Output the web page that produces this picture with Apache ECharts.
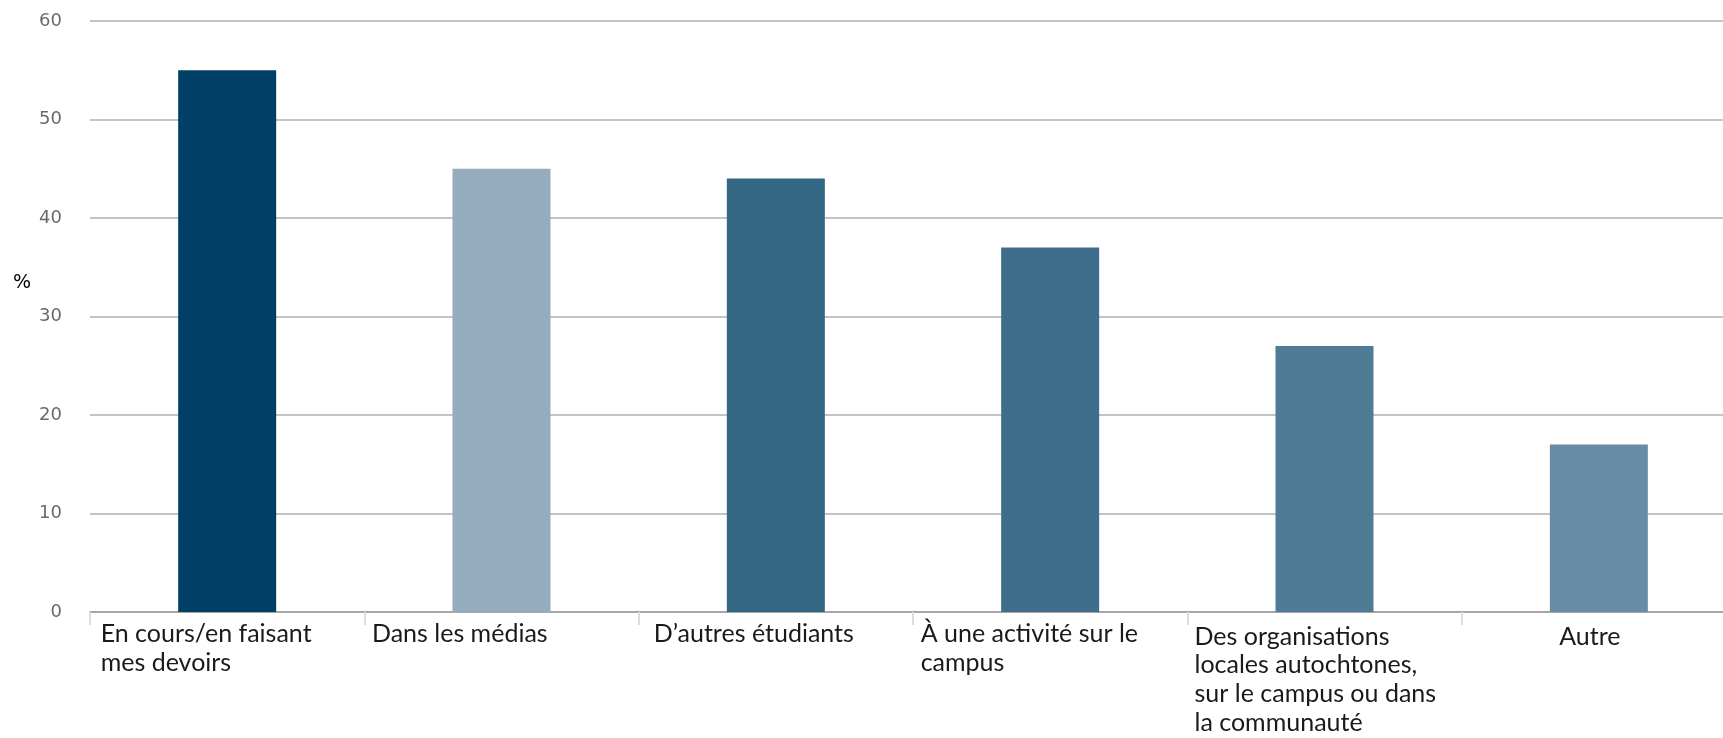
<!DOCTYPE html>
<html>
<head>
<meta charset="utf-8">
<script src="https://cdn.jsdelivr.net/npm/echarts@6/dist/echarts.min.js"></script>
<style>
html,body{margin:0;padding:0;background:#fff;}
#chart{width:1723px;height:738px;}
</style>
</head>
<body>
<div id="chart"></div>
<script>
const categories = [
  "En cours/en faisant\nmes devoirs",
  "Dans les médias",
  "D\u2019autres étudiants",
  "À une activité sur le\ncampus",
  "Des organisations\nlocales autochtones,\nsur le campus ou dans\nla communauté",
  "Autre"
];
const values = [55, 45, 44, 37, 27, 17];
const barColors = ["#023f66", "#93adbf", "#336784", "#3e6e8c", "#4f7b97", "#688ca6"];
const yTicks = [0, 10, 20, 30, 40, 50, 60];
const yAxisTitle = "%";

// per-label text style key (layout only)
const labelStyleKeys = ["l0", "l", "l2", "l", "l3", "c"];

const chart = echarts.init(document.getElementById('chart'), null, {renderer: 'canvas'});

const labelFont = {fontFamily: 'Lato', fontSize: 25, color: '#1a1a1a', lineHeight: 28.6};

chart.setOption({
  animation: false,
  backgroundColor: '#ffffff',
  grid: {left: 90, width: 1646, top: 21, bottom: 126, containLabel: false, outerBoundsMode: 'none'},
  graphic: [{
    type: 'text',
    left: 13,
    top: 274,
    style: {text: yAxisTitle, fontFamily: 'DejaVu Sans', fontSize: 19, fill: '#000'}
  }],
  xAxis: {
    type: 'category',
    data: categories.map((c) => ({value: c})),
    axisLine: {show: true, lineStyle: {color: '#a6a6a6', width: 2}},
    axisTick: {show: true, length: 13, lineStyle: {color: '#d9dee4', width: 2}},
    axisLabel: {
      interval: 0,
      margin: 8,
      align: 'center',
      formatter: function (val, idx) {
        const key = labelStyleKeys[idx];
        return val.split('\n').map(s => '{' + key + '|' + s + '}').join('\n');
      },
      rich: {
        l0: Object.assign({width: 253, align: 'left'}, labelFont),
        l: Object.assign({width: 259, align: 'left'}, labelFont),
        l2: Object.assign({width: 244, align: 'left'}, labelFont),
        l3: Object.assign({width: 260, align: 'left', padding: [5, 0, 0, 0]}, labelFont),
        c: Object.assign({width: 253, align: 'center', padding: [5, 18, 0, 0]}, labelFont)
      }
    }
  },
  yAxis: {
    type: 'value',
    min: yTicks[0],
    max: yTicks[yTicks.length - 1],
    interval: yTicks[1] - yTicks[0],
    axisLine: {show: false},
    axisTick: {show: false},
    axisLabel: {margin: 28, fontFamily: 'DejaVu Sans', fontSize: 18, color: '#6a6a6a'},
    splitLine: {show: true, lineStyle: {color: '#c4c4c4', width: 2}}
  },
  series: [{
    type: 'bar',
    data: values.map((v, i) => ({value: v, itemStyle: {color: barColors[i]}})),
    barWidth: 98
  }]
});
</script>
</body>
</html>
